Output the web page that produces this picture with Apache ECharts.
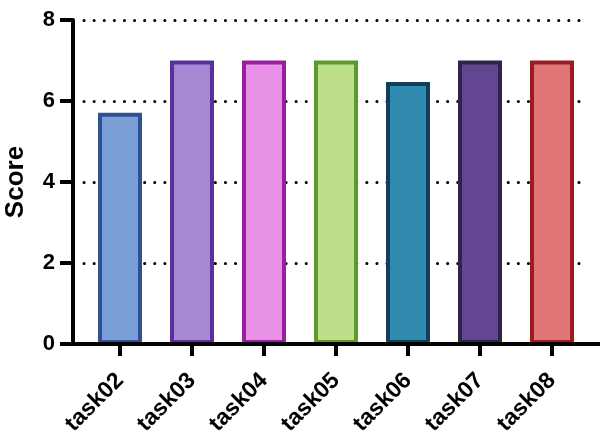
<!DOCTYPE html>
<html>
<head>
<meta charset="utf-8">
<script src="https://cdn.jsdelivr.net/npm/echarts@6/dist/echarts.min.js"></script>
<style>html,body{margin:0;padding:0;background:#fff;}#c{width:600px;height:437px;}</style>
</head>
<body>
<div id="c"></div>
<script>
var categories = ['task02','task03','task04','task05','task06','task07','task08'];
var scores = [5.71, 7, 7, 7, 6.47, 7, 7];
var fillColors = ['#7b9fd4','#a789d3','#e891e6','#bddf89','#2f8aae','#634692','#e07676'];
var borderColors = ['#2d5194','#5b309a','#9a1fa0','#5a9a2e','#0f3f5c','#2f2548','#9b1b22'];
var yTicks = [0, 2, 4, 6, 8];

var chart = echarts.init(document.getElementById('c'), null, {renderer: 'canvas'});
var FONT = 'Liberation Sans, Arial, sans-serif';
chart.setOption({
  animation: false,
  backgroundColor: '#fff',
  grid: {left: 84, right: 12, top: 20, bottom: 93, containLabel: false, outerBoundsMode: 'none'},
  xAxis: {
    type: 'category',
    data: categories,
    axisLine: {lineStyle: {color: '#000', width: 4}},
    axisTick: {show: true, alignWithLabel: true, length: 12, lineStyle: {color: '#000', width: 4}},
    axisLabel: {rotate: 45, margin: 33, color: '#000', fontWeight: 'bold', fontSize: 23, fontFamily: FONT},
  },
  yAxis: {
    type: 'value',
    min: yTicks[0], max: yTicks[yTicks.length - 1], interval: 2,
    offset: 11,
    name: 'Score',
    nameLocation: 'middle',
    nameGap: 44,
    nameTextStyle: {color: '#000', fontWeight: 'bold', fontSize: 26, fontFamily: FONT},
    axisLine: {show: true, lineStyle: {color: '#000', width: 4}},
    axisTick: {show: true, length: 13, lineStyle: {color: '#000', width: 4}},
    axisLabel: {margin: 18, color: '#000', fontWeight: 'bold', fontSize: 22, fontFamily: FONT},
    splitLine: {show: true, lineStyle: {color: '#000', width: 3, type: [0.1, 10], cap: 'round'}}
  },
  graphic: [{
    type: 'rect', z: 100,
    shape: {x: 71, y: 342, width: 529, height: 4},
    style: {fill: '#000'}
  }],
  series: [{
    type: 'bar',
    barWidth: 44,
    data: scores.map(function (v, i) {
      return {value: v, itemStyle: {color: fillColors[i], borderColor: borderColors[i], borderWidth: 4}};
    })
  }]
});
</script>
</body>
</html>
